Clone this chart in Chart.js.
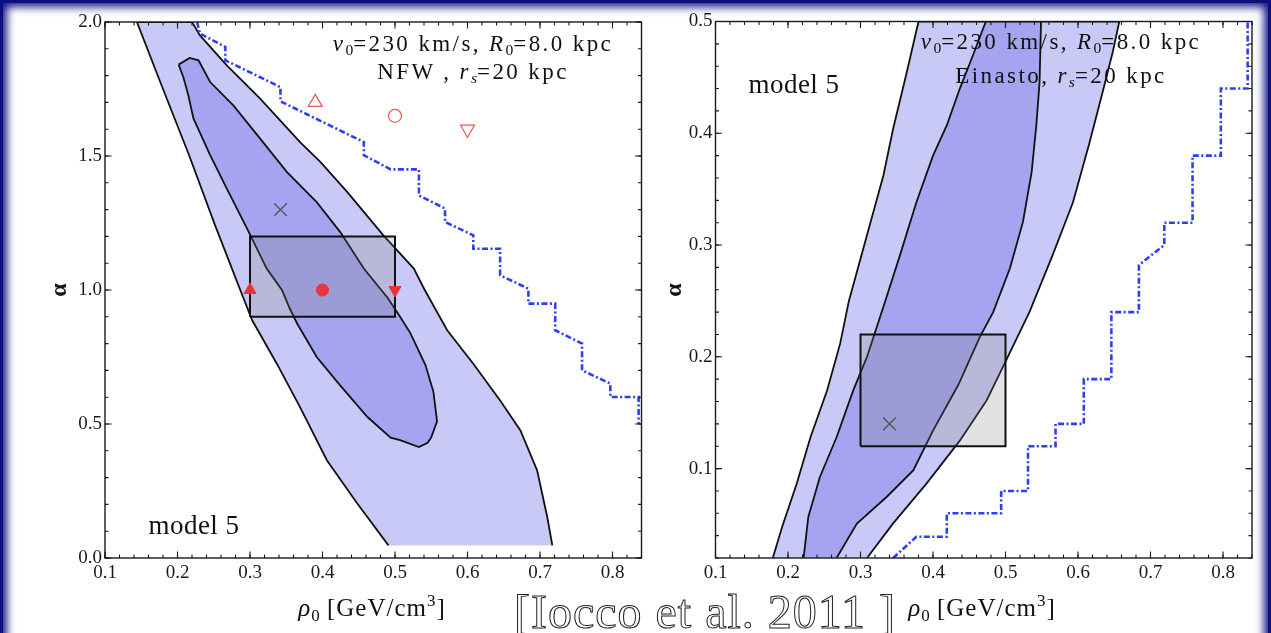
<!DOCTYPE html>
<html>
<head>
<meta charset="utf-8">
<script src="https://cdn.jsdelivr.net/npm/chart.js@4/dist/chart.umd.min.js"></script>
<style>
  html, body { margin: 0; padding: 0; background: #fff; }
  body { width: 1271px; height: 633px; position: relative; overflow: hidden; font-family: "Liberation Serif", "DejaVu Serif", serif; color: #111; }
  canvas { position: absolute; top: 0; }
  #cNfw { left: 0; }
  #cEin { left: 660px; }
  .frame { position: absolute; left: 0; top: 0; right: 0; bottom: -30px; border: 3px solid #0e0e7c; border-bottom: none; box-shadow: inset 0 0 9px 4px #1a1a8a; pointer-events: none; z-index: 5; }
  .t { position: absolute; transform: translate(-50%, -50%); white-space: nowrap; line-height: 1; z-index: 3; }
  .ann { font-size: 23px; letter-spacing: 2.4px; }
  .ann sub, .xt sub { font-size: 0.68em; vertical-align: -0.28em; letter-spacing: 0; }
  .xt sup { font-size: 0.68em; vertical-align: 0.55em; }
  .model { font-size: 27px; letter-spacing: 0.5px; }
  .alpha { font-size: 24px; font-weight: bold; transform: translate(-50%, -50%) rotate(-90deg); }
  .xt { font-size: 25px; letter-spacing: 1px; }
  .cite { font-size: 48px; color: #fff; -webkit-text-stroke: 1px #222; letter-spacing: 1px; }
</style>
</head>
<body>
<canvas id="cNfw" width="660" height="633"></canvas>
<canvas id="cEin" width="611" height="633"></canvas>

<div class="t ann" style="left:473px; top:45px;"><i>v</i><sub>0</sub>=230 km/s, <i>R</i><sub>0</sub>=8.0 kpc</div>
<div class="t ann" style="left:473px; top:73px;">NFW , <i>r<sub>s</sub></i>=20 kpc</div>
<div class="t model" style="left:194px; top:525px;">model 5</div>
<div class="t alpha" style="left:58px; top:290px;">α</div>
<div class="t xt" style="left:372px; top:608px;"><i>ρ</i><sub>0</sub> [GeV/cm<sup>3</sup>]</div>

<div class="t ann" style="left:1061px; top:43px;"><i>v</i><sub>0</sub>=230 km/s, <i>R</i><sub>0</sub>=8.0 kpc</div>
<div class="t ann" style="left:1061px; top:77px;">Einasto, <i>r<sub>s</sub></i>=20 kpc</div>
<div class="t model" style="left:794px; top:84px;">model 5</div>
<div class="t alpha" style="left:673px; top:290px;">α</div>
<div class="t xt" style="left:982px; top:608px;"><i>ρ</i><sub>0</sub> [GeV/cm<sup>3</sup>]</div>

<div class="t cite" style="left:705px; top:612px;">[Iocco et al. 2011 ]</div>
<div class="frame"></div>

<script>
// ---- shared axis ticks ----
const xTicks = [0.1, 0.2, 0.3, 0.4, 0.5, 0.6, 0.7, 0.8];
const nfwYTicks = [0.0, 0.5, 1.0, 1.5, 2.0];
const einYTicks = [0.1, 0.2, 0.3, 0.4, 0.5];

// ---- NFW panel: (rho0 [GeV/cm^3], alpha) ----
// 2-sigma region, traced from the lower-left end, over the top, down to the lower-right end
const nfwOuter = [
  [0.491, 0.047], [0.448, 0.203], [0.406, 0.365], [0.369, 0.563], [0.337, 0.725],
  [0.303, 0.887], [0.288, 0.99], [0.252, 1.24], [0.216, 1.503], [0.180, 1.75],
  [0.144, 2.0], [0.220, 2.0], [0.231, 1.95], [0.268, 1.838], [0.314, 1.714],
  [0.369, 1.552], [0.397, 1.478], [0.434, 1.366], [0.484, 1.204], [0.526, 1.080],
  [0.541, 1.0], [0.572, 0.850], [0.608, 0.725], [0.645, 0.588], [0.673, 0.476],
  [0.696, 0.327], [0.710, 0.153], [0.717, 0.047]
];
// 1-sigma region (closed loop)
const nfwInner = [
  [0.2015, 1.841], [0.2167, 1.866], [0.229, 1.857], [0.245, 1.776], [0.277, 1.689],
  [0.314, 1.565], [0.351, 1.440], [0.392, 1.328], [0.4245, 1.216], [0.457, 1.080],
  [0.490, 0.970], [0.507, 0.900], [0.521, 0.840], [0.542, 0.720], [0.553, 0.620],
  [0.558, 0.510], [0.550, 0.450], [0.545, 0.430], [0.533, 0.414], [0.507, 0.440],
  [0.494, 0.449], [0.462, 0.526], [0.424, 0.645], [0.392, 0.750], [0.365, 0.875],
  [0.355, 0.930], [0.344, 1.000], [0.323, 1.080], [0.296, 1.229], [0.268, 1.378],
  [0.245, 1.503], [0.222, 1.640], [0.215, 1.726], [0.208, 1.795], [0.2015, 1.841]
];
// excluded-region boundary (dot-dashed staircase)
const nfwLimit = [
  [0.227, 2.0], [0.231, 1.957], [0.266, 1.907], [0.266, 1.857], [0.342, 1.757],
  [0.342, 1.704], [0.457, 1.552], [0.457, 1.503], [0.494, 1.45], [0.533, 1.45],
  [0.533, 1.353], [0.569, 1.304], [0.569, 1.254], [0.608, 1.204], [0.608, 1.154],
  [0.645, 1.154], [0.645, 1.055], [0.684, 1.005], [0.684, 0.949], [0.721, 0.949],
  [0.721, 0.85], [0.758, 0.80], [0.758, 0.70], [0.797, 0.651], [0.797, 0.601],
  [0.836, 0.601], [0.836, 0.501]
];
const nfwBoxX = [0.3, 0.5];
const nfwBoxY = [0.9, 1.2];
const nfwBest = [[0.342, 1.3]];
const nfwTriUp = [[0.3, 1.0]];
const nfwDot = [[0.4, 1.0]];
const nfwTriDown = [[0.5, 1.0]];
const nfwOpenTriUp = [[0.39, 1.70]];
const nfwOpenDot = [[0.50, 1.65]];
const nfwOpenTriDown = [[0.60, 1.60]];

// ---- Einasto panel ----
const einOuter = [
  [0.179, 0.02], [0.192, 0.048], [0.212, 0.0865], [0.231, 0.128], [0.254, 0.170],
  [0.272, 0.212], [0.284, 0.250], [0.309, 0.309], [0.3315, 0.362], [0.345, 0.404],
  [0.364, 0.455], [0.380, 0.5], [0.657, 0.5], [0.648, 0.473], [0.634, 0.437],
  [0.616, 0.392], [0.593, 0.338], [0.565, 0.291], [0.533, 0.240], [0.501, 0.197],
  [0.474, 0.161], [0.437, 0.125], [0.391, 0.0865], [0.345, 0.051], [0.309, 0.02]
];
const einInner = [
  [0.2215, 0.02], [0.228, 0.0567], [0.244, 0.0925], [0.267, 0.128], [0.290, 0.170],
  [0.309, 0.200], [0.3315, 0.2445], [0.3545, 0.291], [0.377, 0.338], [0.400, 0.380],
  [0.419, 0.407], [0.437, 0.440], [0.455, 0.4696], [0.469, 0.4935], [0.473, 0.5],
  [0.549, 0.5], [0.547, 0.446], [0.5425, 0.407], [0.536, 0.365], [0.524, 0.3205],
  [0.506, 0.279], [0.483, 0.240], [0.4645, 0.2177], [0.435, 0.175], [0.400, 0.134],
  [0.373, 0.0985], [0.336, 0.0746], [0.295, 0.0508], [0.267, 0.02]
];
const einLimit = [
  [0.345, 0.02], [0.377, 0.039], [0.419, 0.039], [0.419, 0.06], [0.494, 0.06],
  [0.494, 0.08], [0.531, 0.08], [0.531, 0.12], [0.569, 0.12], [0.569, 0.14],
  [0.608, 0.14], [0.608, 0.18], [0.646, 0.18], [0.646, 0.24], [0.684, 0.24],
  [0.684, 0.282], [0.719, 0.30], [0.719, 0.32], [0.758, 0.32], [0.758, 0.38],
  [0.797, 0.38], [0.797, 0.44], [0.834, 0.44], [0.834, 0.5]
];
const einBoxX = [0.3, 0.5];
const einBoxY = [0.12, 0.22];
const einBest = [[0.34, 0.14]];

// ---- styling ----
const OUTER_FILL = '#c9c9f7';
const INNER_FILL = '#a4a4f0';
const BOX_FILL = 'rgba(125,125,125,0.22)';
const LIMIT_BLUE = '#2e3ef2';
const MARK_RED = '#e8353a';
const OPEN_RED = '#ee5a5a';
const FONT = "'Liberation Serif', 'DejaVu Serif', serif";

const pts = arr => arr.map(([x, y]) => ({x, y}));
const boxPts = (bx, by) => pts([[bx[0], by[0]], [bx[1], by[0]], [bx[1], by[1]], [bx[0], by[1]], [bx[0], by[0]]]);

function region(data, fillColor, order) {
  return { data: pts(data), fill: 'shape', backgroundColor: fillColor, borderColor: '#111',
           borderWidth: 1.8, pointRadius: 0, tension: 0, order };
}
function limitLine(data) {
  return { data: pts(data), fill: false, borderColor: LIMIT_BLUE, borderWidth: 2.6,
           borderDash: [6, 2.5, 2, 2.5], pointRadius: 0, tension: 0, order: 7 };
}
function marker(data, style, radius, fillColor, strokeColor, rotation, width) {
  return { data: pts(data), showLine: false, pointStyle: style, pointRadius: radius,
           pointRotation: rotation || 0, pointBackgroundColor: fillColor,
           pointBorderColor: strokeColor, pointBorderWidth: width || 1, order: 1 };
}

// frame box with inward major/minor ticks on all four sides
const frameTicks = {
  id: 'frameTicks',
  afterDatasetsDraw(chart, args, o) {
    const {ctx, chartArea: a, scales: {x, y}} = chart;
    ctx.save();
    ctx.strokeStyle = '#1a1a1a';
    ctx.lineWidth = 1.4;
    ctx.strokeRect(a.left, a.top, a.right - a.left, a.bottom - a.top);
    ctx.lineWidth = 1.1;
    const each = (scale, step, fn) => {
      const n0 = Math.ceil(scale.min / step - 1e-6), n1 = Math.floor(scale.max / step + 1e-6);
      for (let n = n0; n <= n1; n++) fn(scale.getPixelForValue(+(n * step).toFixed(6)));
    };
    const xs = (step, len) => each(x, step, p => {
      ctx.beginPath();
      ctx.moveTo(p, a.bottom); ctx.lineTo(p, a.bottom - len);
      ctx.moveTo(p, a.top); ctx.lineTo(p, a.top + len);
      ctx.stroke();
    });
    const ys = (step, len) => each(y, step, p => {
      ctx.beginPath();
      ctx.moveTo(a.left, p); ctx.lineTo(a.left + len, p);
      ctx.moveTo(a.right, p); ctx.lineTo(a.right - len, p);
      ctx.stroke();
    });
    xs(o.xMinor, 3.5); xs(o.xMajor, 6.5);
    ys(o.yMinor, 3.5); ys(o.yMajor, 6.5);
    ctx.restore();
  }
};

function axisX(labels, height) {
  return {
    type: 'linear', min: 0.1, max: 0.84,
    afterBuildTicks: s => { s.ticks = labels.map(v => ({value: v})); },
    afterFit: s => { s.height = height; },
    grid: {display: false, drawTicks: false}, border: {display: false},
    ticks: {autoSkip: false, maxRotation: 0, padding: 4, color: '#1a1a1a',
            font: {family: FONT, size: 19}, callback: v => v.toFixed(1)}
  };
}
function axisY(labels, min, max, width) {
  return {
    type: 'linear', min, max,
    afterBuildTicks: s => { s.ticks = labels.map(v => ({value: v})); },
    afterFit: s => { s.width = width; },
    grid: {display: false, drawTicks: false}, border: {display: false},
    ticks: {autoSkip: false, padding: 3, color: '#1a1a1a',
            font: {family: FONT, size: 19}, callback: v => v.toFixed(1)}
  };
}

const common = {
  responsive: false, animation: false, devicePixelRatio: 1,
  plugins: {legend: {display: false}, tooltip: {enabled: false}}
};

new Chart(document.getElementById('cNfw'), {
  type: 'line',
  data: {datasets: [
    region(nfwOuter, OUTER_FILL, 10),
    region(nfwInner, INNER_FILL, 9),
    {data: boxPts(nfwBoxX, nfwBoxY), fill: 'shape', backgroundColor: BOX_FILL, borderColor: '#111',
     borderWidth: 2, pointRadius: 0, tension: 0, order: 8},
    limitLine(nfwLimit),
    marker(nfwBest, 'crossRot', 9, 'transparent', '#555', 0, 1.3),
    marker(nfwTriUp, 'triangle', 7, MARK_RED, MARK_RED),
    marker(nfwDot, 'circle', 6, MARK_RED, MARK_RED),
    marker(nfwTriDown, 'triangle', 7, MARK_RED, MARK_RED, 180),
    marker(nfwOpenTriUp, 'triangle', 8, '#fff', OPEN_RED, 0, 1.3),
    marker(nfwOpenDot, 'circle', 6.5, '#fff', OPEN_RED, 0, 1.3),
    marker(nfwOpenTriDown, 'triangle', 8, '#fff', OPEN_RED, 180, 1.3)
  ]},
  options: Object.assign({}, common, {
    layout: {padding: {top: 22, right: 18.5, left: 0, bottom: 0}},
    scales: {x: axisX(xTicks, 75), y: axisY(nfwYTicks, 0, 2, 105)},
    plugins: Object.assign({}, common.plugins, {frameTicks: {xMajor: 0.1, xMinor: 0.02, yMajor: 0.5, yMinor: 0.1}})
  }),
  plugins: [frameTicks]
});

new Chart(document.getElementById('cEin'), {
  type: 'line',
  data: {datasets: [
    region(einOuter, OUTER_FILL, 10),
    region(einInner, INNER_FILL, 9),
    {data: boxPts(einBoxX, einBoxY), fill: 'shape', backgroundColor: BOX_FILL, borderColor: '#111',
     borderWidth: 2, pointRadius: 0, tension: 0, order: 8},
    limitLine(einLimit),
    marker(einBest, 'crossRot', 9, 'transparent', '#555', 0, 1.3)
  ]},
  options: Object.assign({}, common, {
    layout: {padding: {top: 21.5, right: 19, left: 0, bottom: 0}},
    scales: {x: axisX(xTicks, 75), y: axisY(einYTicks, 0.02, 0.5, 55.5)},
    plugins: Object.assign({}, common.plugins, {frameTicks: {xMajor: 0.1, xMinor: 0.02, yMajor: 0.1, yMinor: 0.02}})
  }),
  plugins: [frameTicks]
});
</script>
</body>
</html>
